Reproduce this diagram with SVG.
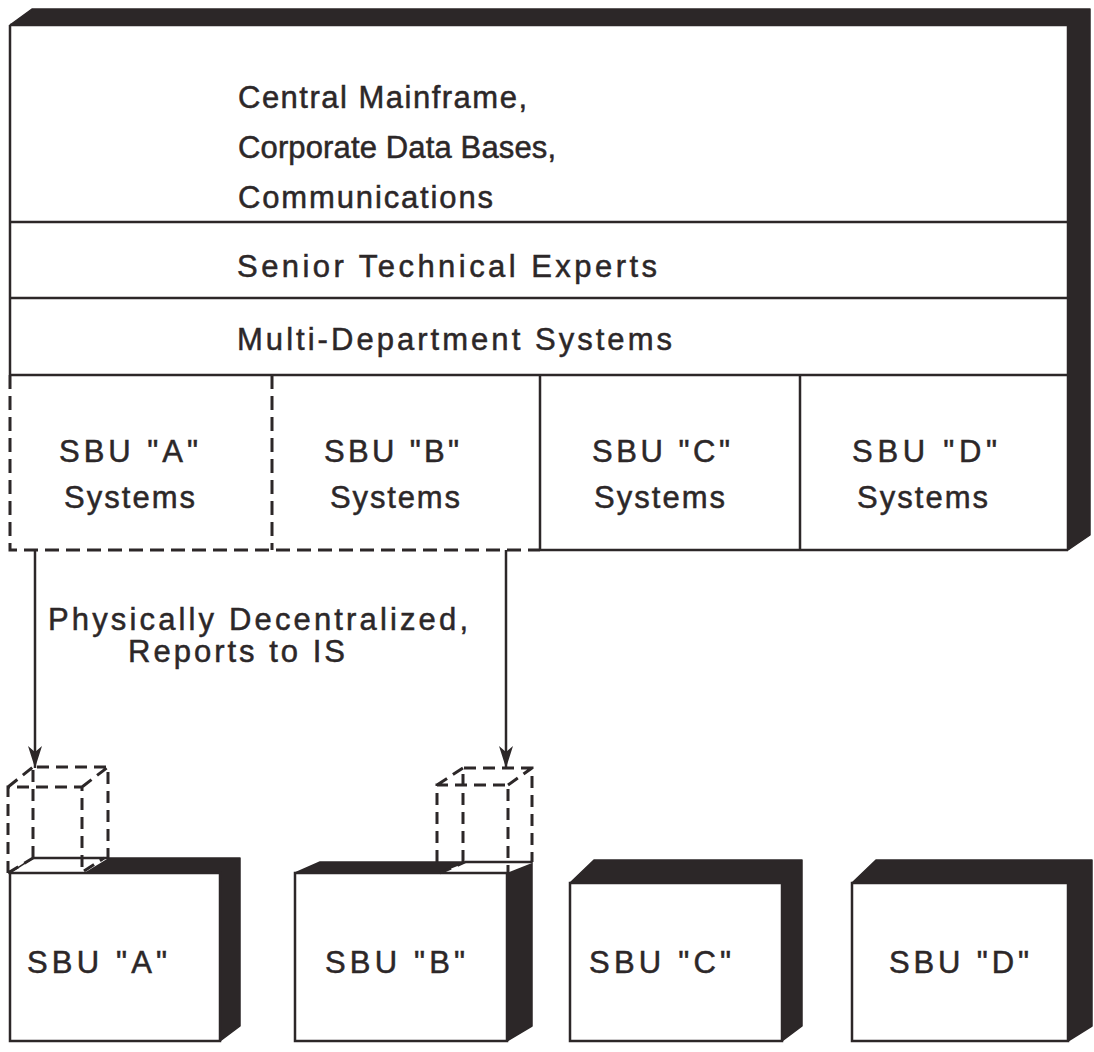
<svg xmlns="http://www.w3.org/2000/svg" width="1094" height="1052" viewBox="0 0 1094 1052">
<style>
.bg{fill:#ffffff}
.dark{fill:#2c2728;stroke:#2c2728;stroke-width:1.5;stroke-linejoin:round}
.face{fill:#ffffff;stroke:#2c2728;stroke-width:2.5}
.ln{stroke:#2c2728;stroke-width:2.5;fill:none}
.dash{stroke:#2c2728;stroke-width:3;fill:none;stroke-dasharray:14 7}
.dsh2{stroke:#2c2728;stroke-width:3;fill:none;stroke-dasharray:12 7}
.wh{fill:#ffffff;stroke:none}
.t{font-family:"Liberation Sans",Arial,sans-serif;font-size:31px;fill:#2c2728;stroke:#2c2728;stroke-width:0.5}
.arr{stroke:#2c2728;stroke-width:2.5;fill:none;marker-end:url(#ah)}
</style>
<defs>
<marker id="ah" viewBox="0 0 22 14" refX="22" refY="7" markerWidth="22" markerHeight="14" markerUnits="userSpaceOnUse" orient="auto">
<path d="M0,0 L22,7 L0,14 L6,7 Z" fill="#2c2728"/>
</marker>
</defs>
<rect class="bg" x="0" y="0" width="1094" height="1052"/>

<g id="main">
<polygon class="dark" points="10,25 32,9 1090,9 1090,535 1068,550 1068,25"/>
<rect class="wh" x="10" y="25" width="1058" height="525"/>
<path class="ln" d="M10,25 H1068 V550 M10,375 V25 M10,222 H1068 M10,298 H1068 M10,375 H1068 M540,550 H1068 M540,375 V550 M800,375 V550"/>
<path class="dash" d="M10,375 V550 H540 M272,375 V550"/>
</g>

<g id="mainframe"><text class="t" x="238" y="108" textLength="289" lengthAdjust="spacing">Central Mainframe,</text>
<text class="t" x="238" y="158" textLength="318" lengthAdjust="spacing">Corporate Data Bases,</text>
<text class="t" x="238" y="208" textLength="255" lengthAdjust="spacing">Communications</text></g>
<g id="experts"><text class="t" x="237" y="277" textLength="420" lengthAdjust="spacing">Senior Technical Experts</text></g>
<g id="multi"><text class="t" x="237" y="350" textLength="435" lengthAdjust="spacing">Multi-Department Systems</text></g>
<g id="sbuA-sys"><text class="t" x="59" y="462" textLength="139" lengthAdjust="spacing">SBU "A"</text><text class="t" x="64" y="508" textLength="131" lengthAdjust="spacing">Systems</text></g>
<g id="sbuB-sys"><text class="t" x="324" y="462" textLength="135" lengthAdjust="spacing">SBU "B"</text><text class="t" x="330" y="508" textLength="130" lengthAdjust="spacing">Systems</text></g>
<g id="sbuC-sys"><text class="t" x="592" y="462" textLength="138" lengthAdjust="spacing">SBU "C"</text><text class="t" x="594" y="508" textLength="131" lengthAdjust="spacing">Systems</text></g>
<g id="sbuD-sys"><text class="t" x="852" y="462" textLength="145" lengthAdjust="spacing">SBU "D"</text><text class="t" x="857" y="508" textLength="131" lengthAdjust="spacing">Systems</text></g>

<g id="connectors">
<line class="arr" x1="35" y1="550" x2="35" y2="768"/>
<line class="arr" x1="506" y1="550" x2="506" y2="768"/>
</g>
<g id="label"><text class="t" x="48" y="630" textLength="420" lengthAdjust="spacing">Physically Decentralized,</text>
<text class="t" x="128" y="662" textLength="217" lengthAdjust="spacing">Reports to IS</text></g>

<g id="sbuA">
<polygon class="dark" points="10,873 33,858 240,858 240,1026 220,1041 220,873"/>
<polygon class="wh" points="11,873 33,859 107,859 84,873"/>
<line class="ln" x1="33" y1="858" x2="107" y2="858"/>
<rect class="face" x="10" y="873" width="210" height="168"/>
<path class="dsh2" d="M8,873 V787 H82 V870 M33,858 V767 H108 V858 M8,787 L33,767 M82,787 L108,767 M8,873 L33,858 M84,871 L104,858"/>
<text class="t" x="27" y="973" textLength="140" lengthAdjust="spacing">SBU "A"</text>
</g>

<g id="sbuB">
<polygon class="dark" points="295,873 320,862 532,862 532,1026 507,1041 507,873"/>
<polygon class="wh" points="440,873 465,863 532,863 507,873"/>
<line class="ln" x1="465" y1="862" x2="532" y2="862"/>
<rect class="face" x="295" y="873" width="212" height="168"/>
<path class="dsh2" d="M437,862 V785 H508 V875 M463,862 V768 H532 V862 M437,785 L463,768 M508,785 L532,768 M440,873 L465,862"/>
<text class="t" x="325" y="973" textLength="140" lengthAdjust="spacing">SBU "B"</text>
</g>

<g id="sbuC">
<polygon class="dark" points="570,883 594,860 802,860 802,1026 782,1041 782,883"/>
<rect class="face" x="570" y="883" width="212" height="158"/>
<text class="t" x="589" y="973" textLength="142" lengthAdjust="spacing">SBU "C"</text>
</g>

<g id="sbuD">
<polygon class="dark" points="852,883 876,860 1092,860 1092,1026 1068,1041 1068,883"/>
<rect class="face" x="852" y="883" width="216" height="158"/>
<text class="t" x="889" y="973" textLength="140" lengthAdjust="spacing">SBU "D"</text>
</g>
</svg>
